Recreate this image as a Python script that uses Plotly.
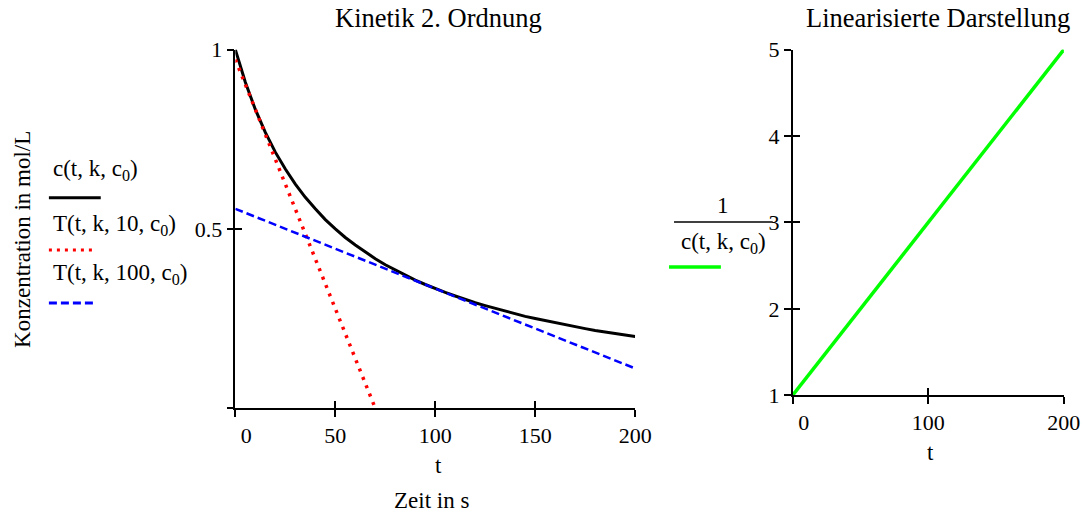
import plotly.graph_objects as go

# ---- data ----
t_vals = list(range(0, 201, 5))
c_vals = [1.000, 0.909, 0.833, 0.769, 0.714, 0.667, 0.625, 0.588, 0.556, 0.526,
          0.500, 0.476, 0.455, 0.435, 0.417, 0.400, 0.385, 0.370, 0.357, 0.345,
          0.333, 0.323, 0.313, 0.303, 0.294, 0.286, 0.278, 0.270, 0.263, 0.256,
          0.250, 0.244, 0.238, 0.233, 0.227, 0.222, 0.217, 0.213, 0.208, 0.204,
          0.200]
t10_t = [0, 70]
t10_c = [0.972, 0.0]
t100_t = [0, 200]
t100_c = [0.556, 0.111]
lin_t = list(range(0, 201, 10))
lin_inv = [1.0, 1.2, 1.4, 1.6, 1.8, 2.0, 2.2, 2.4, 2.6, 2.8, 3.0,
           3.2, 3.4, 3.6, 3.8, 4.0, 4.2, 4.4, 4.6, 4.8, 5.0]
NB = "\u00a0" * 4
left_xticks = [0, 50, 100, 150, 200]
left_xticktext = [NB + "0", "50", "100", "150", "200"]
left_yticks = [0, 0.5, 1]
left_yticktext = ["", "0.5", "1"]
right_xticks = [0, 100, 200]
right_xticktext = [NB + "0", "100", "200"]
right_yticks = [1, 2, 3, 4, 5]

W, H = 1089, 515
FONT = "Liberation Serif"
# empirical figure->photo mapping compensation
AX, BX = 0.9726, 13.0
AY, BY = 0.9497, 12.5

def px(x):
    return ((x - BX) / AX) / W

def py(y):
    return 1 - ((y - BY) / AY) / H

RED_DOT = "3px,6px"
BLUE_DASH = "8px,4px"

fig = go.Figure()
fig.add_trace(go.Scatter(x=t_vals, y=c_vals, mode="lines",
                         line=dict(color="black", width=3), xaxis="x", yaxis="y"))
fig.add_trace(go.Scatter(x=t10_t, y=t10_c, mode="lines",
                         line=dict(color="#ff0000", width=3.5, dash=RED_DOT), xaxis="x", yaxis="y"))
fig.add_trace(go.Scatter(x=t100_t, y=t100_c, mode="lines",
                         line=dict(color="#0000ff", width=2.5, dash=BLUE_DASH), xaxis="x", yaxis="y"))
fig.add_trace(go.Scatter(x=lin_t, y=lin_inv, mode="lines",
                         line=dict(color="#00ff00", width=3.5), xaxis="x2", yaxis="y2"))

ax_common = dict(showgrid=False, zeroline=False, showline=True, linecolor="black",
                 linewidth=1.5, ticks="outside", ticklen=7, tickwidth=1.5,
                 tickcolor="black", tickfont=dict(family=FONT, size=22, color="black"))

L_dom_x = [px(233), px(634)]
L_dom_y = [py(408), py(50)]
R_dom_x = [px(792), px(1064)]
R_dom_y = [py(395), py(50)]

inside = dict(showgrid=False, zeroline=False, showline=False, ticks="inside",
              ticklen=7, tickwidth=1.5, tickcolor="black", showticklabels=False)

fig.update_layout(
    width=W, height=H, margin=dict(l=0, r=0, t=0, b=0),
    paper_bgcolor="white", plot_bgcolor="white", showlegend=False,
    xaxis=dict(domain=L_dom_x, range=[0, 200], anchor="y", tickvals=left_xticks,
               ticktext=left_xticktext, **ax_common),
    yaxis=dict(domain=L_dom_y, range=[0, 1], anchor="x", tickvals=left_yticks,
               ticktext=left_yticktext, ticklabelstandoff=0, **ax_common),
    xaxis2=dict(domain=R_dom_x, range=[0, 200], anchor="y2", tickvals=right_xticks,
                ticktext=right_xticktext, **ax_common),
    yaxis2=dict(domain=R_dom_y, range=[1, 5], anchor="x2", tickvals=right_yticks,
                ticklabelstandoff=0, **ax_common),
    xaxis3=dict(domain=L_dom_x, range=[0, 200], anchor="y3", overlaying="x",
                tickvals=left_xticks, **inside),
    yaxis3=dict(domain=L_dom_y, range=[0, 1], anchor="x3", overlaying="y",
                tickvals=left_yticks, **inside),
    xaxis4=dict(domain=R_dom_x, range=[0, 200], anchor="y4", overlaying="x2",
                tickvals=right_xticks, **inside),
    yaxis4=dict(domain=R_dom_y, range=[1, 5], anchor="x4", overlaying="y2",
                tickvals=right_yticks, **inside),
)
fig.add_trace(go.Scatter(x=[None], y=[None], xaxis="x3", yaxis="y3", hoverinfo="skip"))
fig.add_trace(go.Scatter(x=[None], y=[None], xaxis="x4", yaxis="y4", hoverinfo="skip"))

def txt(x, y, s, size=23, xanchor="center"):
    fig.add_annotation(x=px(x), y=py(y), xref="paper", yref="paper", text=s,
                       showarrow=False, xanchor=xanchor, yanchor="middle",
                       font=dict(family=FONT, size=size, color="black"))

txt(437, 18, "Kinetik 2. Ordnung", size=26.5)
txt(938, 18, "Linearisierte Darstellung", size=26.5)
txt(437, 465, "t", size=23)
txt(430, 500, "Zeit in s", size=23)
txt(930, 452, "t", size=23)
fig.add_annotation(x=px(20), y=py(239), xref="paper", yref="paper",
                   text="Konzentration in mol/L", showarrow=False, textangle=-90,
                   xanchor="center", yanchor="middle",
                   font=dict(family=FONT, size=23, color="black"))

# legend (left)
txt(48, 170, "c(t, k, c<sub>0</sub>)", size=23, xanchor="left")
txt(48, 225, "T(t, k, 10, c<sub>0</sub>)", size=23, xanchor="left")
txt(48, 274, "T(t, k, 100, c<sub>0</sub>)", size=23, xanchor="left")
fig.add_shape(type="line", xref="paper", yref="paper", x0=px(46), x1=px(98),
              y0=py(198), y1=py(198), line=dict(color="black", width=3))
fig.add_shape(type="line", xref="paper", yref="paper", x0=px(46), x1=px(90),
              y0=py(250), y1=py(250), line=dict(color="#ff0000", width=3, dash="3px,5px"))
fig.add_shape(type="line", xref="paper", yref="paper", x0=px(46), x1=px(93),
              y0=py(303), y1=py(303), line=dict(color="#0000ff", width=3, dash=BLUE_DASH))

# right legend (fraction)
txt(722, 206, "1", size=23)
fig.add_shape(type="line", xref="paper", yref="paper", x0=px(673), x1=px(772),
              y0=py(222), y1=py(222), line=dict(color="black", width=1.5))
txt(723, 243, "c(t, k, c<sub>0</sub>)", size=23)
fig.add_shape(type="line", xref="paper", yref="paper", x0=px(668), x1=px(720),
              y0=py(267), y1=py(267), line=dict(color="#00ff00", width=3.5))

fig.write_html("out.html")
